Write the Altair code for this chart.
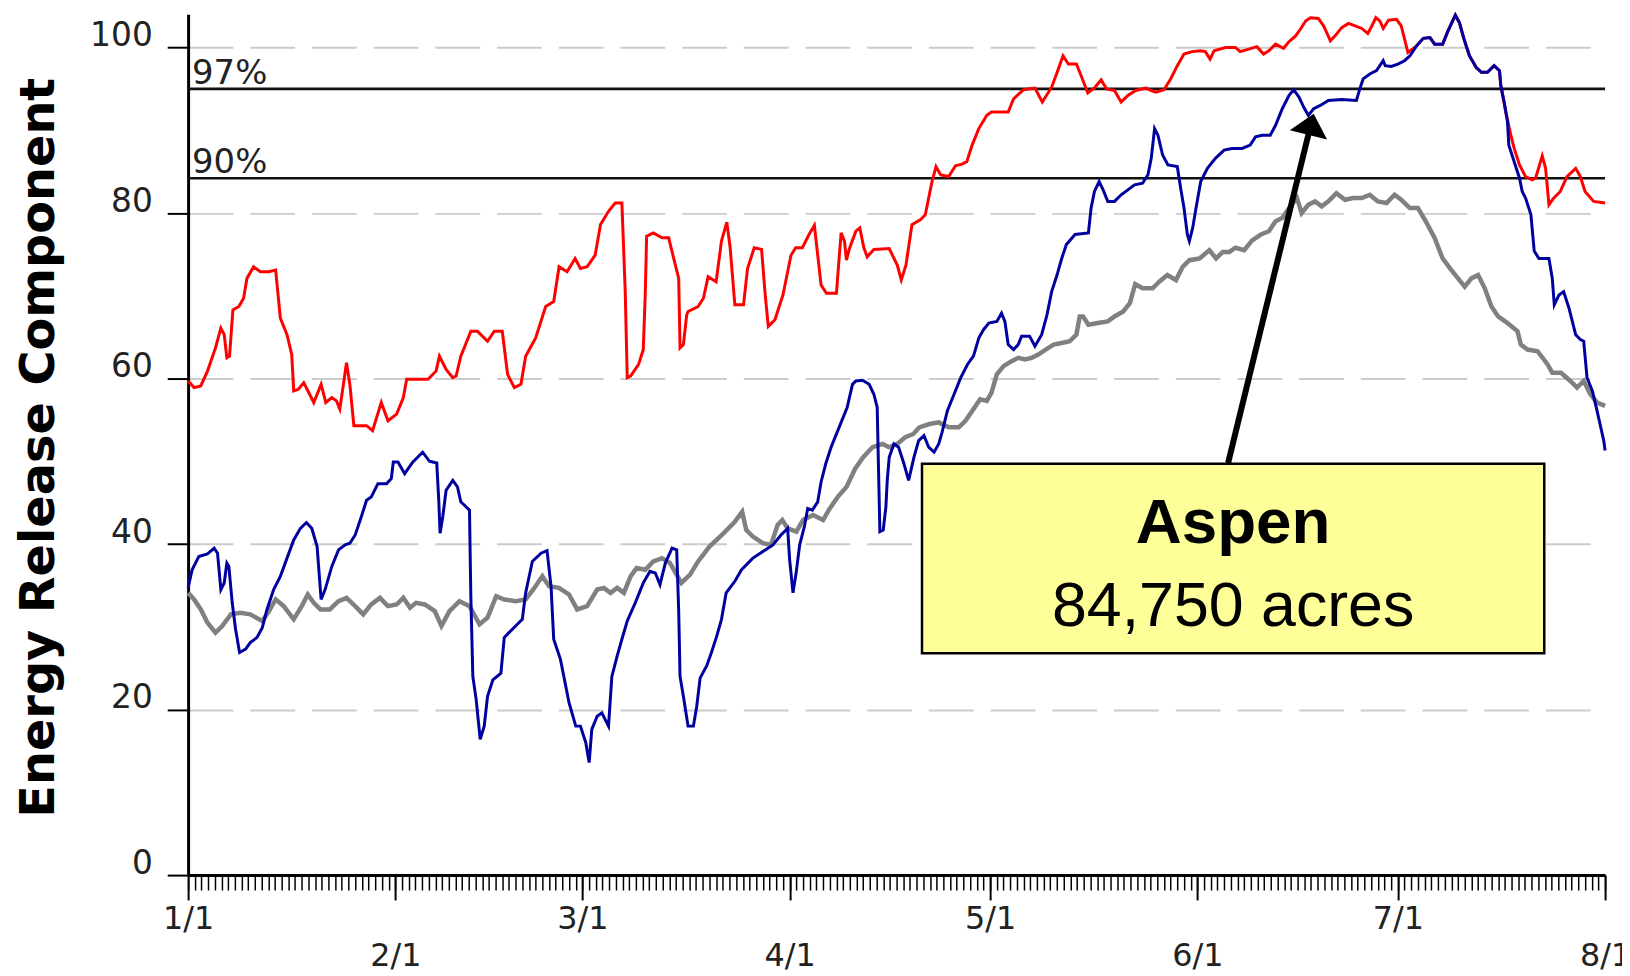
import altair as alt
import pandas as pd

# ---------------- data (day index from 1/1, ERC value) ----------------
red_day = [0, 0.9, 1.9, 2.9, 4.1, 4.9, 5.4, 5.8, 6.2, 6.7, 7.6, 8.3, 8.8, 9.8, 10.8, 12.1, 13.1, 13.8, 14.8,
           15.5, 15.8, 16.5, 17.3, 18.8, 19.9, 20.6, 21.5, 22.2, 22.7, 23.7, 24.2, 24.8, 26.7, 27.6, 28.9,
           29.9, 31.2, 32.2, 32.7, 35.9, 37.1, 37.6, 38.6, 39.6, 40.1, 40.8, 42.3, 43.3, 44.8, 45.8, 47.0,
           47.8, 48.8, 49.8, 50.5, 52.0, 53.5, 54.7, 55.5, 56.7, 57.9, 58.7, 59.7, 60.9, 61.7, 62.9, 63.9,
           64.9, 65.4, 65.7, 66.2, 67.4, 68.1, 68.4, 68.6, 69.6, 70.9, 71.9, 72.9, 73.4, 73.6, 74.1, 74.6,
           74.8, 76.3, 77.1, 77.8, 79.0, 79.8, 80.6, 81.1, 81.8, 83.1, 83.7, 84.7, 85.8, 86.3, 86.8, 87.8,
           89.0, 90.2, 90.9, 91.9, 92.9, 93.7, 94.7, 95.5, 97.0, 97.3, 97.7, 98.2, 98.5, 98.9, 99.9, 100.5,
           101.1, 101.6, 102.6, 104.9, 106.1, 106.7, 107.4, 108.3, 109.6, 110.3, 111.3, 111.9, 112.6, 113.8,
           114.8, 115.8, 116.5, 117.3, 118.3, 119.5, 120.2, 122.7, 123.5, 125.0, 126.7, 127.8, 129.2, 130.2,
           130.9, 131.7, 132.9, 133.7, 134.6, 135.6, 136.6, 137.4, 138.6, 139.6, 140.6, 141.8, 143.3, 144.1,
           144.8, 146.0, 147.0, 148.0, 149.0, 150.2, 151.5, 152.2, 152.9, 153.5, 155.2, 156.7, 157.4, 158.7,
           159.9, 160.9, 161.7, 162.7, 163.9, 164.7, 165.7, 166.4, 167.2, 167.9, 169.1, 169.9, 170.9, 171.6,
           172.6, 173.6, 174.6, 175.6, 176.5, 177.1, 177.7, 178.3, 178.8, 179.6, 180.8, 181.5, 182.0, 182.5,
           183.8, 184.8, 185.8, 186.5, 187.7, 188.5, 189.6, 190.2, 190.9, 191.7, 192.7, 193.5, 194.4, 195.4,
           196.2, 196.4, 197.1, 197.9, 198.4, 199.2, 200.1, 201.1, 201.6, 202.6, 203.1, 203.6, 204.3, 205.3,
           206.3, 207.6, 208.3, 209.0, 210.3, 212.0]
red_erc = [59.7, 58.9, 59.1, 60.9, 63.7, 66.1, 65.3, 62.5, 62.7, 68.3, 68.7, 69.7, 72.1, 73.5, 72.9, 72.9, 73.1,
           67.3, 65.3, 62.9, 58.5, 58.7, 59.5, 57.1, 59.3, 57.1, 57.7, 57.3, 56.3, 61.9, 59.3, 54.3, 54.3,
           53.7, 57.1, 54.9, 55.7, 57.7, 59.9, 59.9, 60.9, 62.7, 61.1, 60.1, 60.3, 62.7, 65.7, 65.7, 64.5,
           65.7, 65.7, 60.5, 58.9, 59.3, 62.7, 64.9, 68.7, 69.3, 73.5, 72.9, 74.5, 73.3, 73.5, 74.9, 78.6,
           80.2, 81.2, 81.2, 70.5, 60.1, 60.3, 61.7, 63.5, 70.3, 77.2, 77.6, 77.0, 77.0, 73.7, 72.1, 63.7,
           64.1, 67.7, 68.1, 68.7, 69.7, 72.3, 71.7, 76.6, 78.9, 75.8, 68.9, 68.9, 73.3, 75.8, 75.6, 70.5,
           66.3, 67.1, 70.1, 74.9, 75.8, 75.8, 77.4, 78.5, 71.3, 70.3, 70.3, 73.5, 77.6, 76.6, 74.3, 75.6,
           77.8, 78.2, 75.8, 74.7, 75.6, 75.7, 73.7, 71.9, 73.7, 78.6, 79.2, 79.8, 83.8, 85.6, 84.6, 84.4,
           85.7, 85.9, 86.2, 88.2, 90.2, 91.8, 92.2, 92.2, 93.8, 94.9, 95.1, 93.4, 95.2, 97.4, 99.0, 98.0,
           98.0, 96.4, 94.5, 95.1, 96.1, 95.0, 94.8, 93.4, 94.2, 94.8, 95.1, 94.8, 94.6, 94.9, 96.2, 97.8,
           99.2, 99.5, 99.6, 99.5, 98.6, 99.6, 100.0, 100.0, 99.5, 99.8, 100.1, 99.2, 99.6, 100.4, 99.9,
           100.7, 101.4, 102.2, 103.2, 103.6, 103.5, 102.6, 100.8, 101.4, 102.4, 102.9, 102.6, 102.3, 101.7,
           102.6, 103.6, 103.2, 102.3, 103.3, 103.4, 102.6, 101.0, 99.4, 100.2, 101.1, 101.2, 100.4, 100.4,
           102.0, 103.9, 103.0, 101.0, 99.0, 97.6, 97.0, 97.0, 97.8, 97.2, 95.4, 92.4, 89.4, 87.8, 85.8,
           84.4, 84.0, 84.2, 86.9, 85.4, 81.0, 81.8, 82.6, 84.4, 85.4, 84.4, 82.6, 81.4, 81.2]

blue_day = [0, 0.6, 1.6, 2.9, 3.9, 4.4, 4.9, 5.4, 5.8, 6.1, 6.6, 7.1, 7.7, 8.6, 9.3, 10.3, 11.1, 11.8, 12.8,
            13.8, 14.8, 15.8, 16.8, 17.7, 18.5, 19.3, 19.9, 20.5, 21.5, 22.5, 23.5, 24.2, 25.0, 26.0, 26.7,
            27.4, 28.4, 29.7, 30.4, 30.7, 31.4, 32.4, 33.6, 35.1, 36.1, 37.2, 37.5, 37.7, 38.1, 38.6, 39.6,
            40.3, 40.8, 42.1, 42.3, 42.6, 43.1, 43.7, 44.3, 44.8, 45.6, 46.8, 47.3, 48.0, 49.0, 50.0, 50.5,
            51.5, 52.8, 53.7, 54.3, 54.7, 55.7, 57.0, 58.0, 58.7, 59.5, 60.0, 60.4, 61.2, 61.9, 62.9, 63.4,
            64.2, 64.9, 65.7, 66.9, 68.1, 69.1, 69.9, 70.6, 71.4, 72.4, 73.1, 73.4, 73.6, 74.1, 74.8, 75.6,
            76.1, 76.6, 77.6, 78.3, 79.1, 79.8, 80.5, 81.8, 82.8, 84.5, 86.0, 87.5, 88.7, 89.7, 90.0, 90.5,
            91.0, 91.5, 92.2, 92.7, 93.4, 94.2, 94.7, 95.4, 96.2, 96.9, 97.4, 98.6, 99.4, 99.9, 100.9, 101.9,
            102.6, 103.1, 103.3, 103.5, 104.0, 104.4, 104.6, 104.9, 105.6, 106.3, 107.1, 107.8, 108.6, 109.3,
            110.1, 110.8, 111.6, 112.3, 112.8, 113.6, 114.6, 115.6, 116.6, 117.5, 118.3, 119.0, 119.8, 121.0,
            121.7, 122.2, 122.7, 123.5, 124.2, 124.7, 125.9, 126.7, 127.7, 128.5, 129.2, 130.0, 130.7, 131.4,
            132.7, 134.7, 135.1, 135.6, 136.3, 136.9, 137.6, 138.6, 139.6, 140.6, 141.6, 142.8, 143.6, 144.1,
            144.6, 145.1, 145.8, 146.6, 148.0, 148.5, 149.0, 149.5, 149.8, 150.3, 150.8, 151.5, 152.5, 153.7,
            155.0, 156.2, 157.7, 158.9, 159.7, 160.7, 161.9, 162.7, 163.7, 164.7, 165.4, 166.2, 166.9, 167.6,
            168.4, 169.4, 170.6, 172.6, 174.8, 175.3, 175.8, 176.8, 177.8, 178.8, 179.1, 180.0, 181.0, 182.0,
            182.8, 183.8, 184.8, 185.8, 186.5, 187.7, 188.5, 189.6, 190.2, 190.9, 191.7, 192.7, 193.5, 194.4,
            195.4, 196.2, 196.4, 196.9, 197.4, 197.6, 198.4, 199.2, 199.6, 200.1, 200.9, 201.4, 202.1, 203.6,
            204.1, 204.4, 205.1, 205.8, 206.6, 207.6, 208.3, 208.8, 209.3, 210.1, 210.8, 211.8, 212.0]
blue_erc = [34.7, 36.9, 38.5, 38.8, 39.5, 38.9, 34.5, 35.3, 37.7, 37.3, 32.9, 29.7, 26.9, 27.3, 28.1, 28.7,
            29.9, 32.1, 34.5, 36.1, 38.3, 40.5, 41.9, 42.6, 41.9, 39.7, 33.3, 34.5, 37.3, 39.3, 39.9, 40.1,
            41.1, 43.5, 45.3, 45.7, 47.3, 47.3, 47.9, 49.9, 49.9, 48.5, 49.9, 51.1, 50.0, 49.8, 45.3, 41.3,
            43.3, 46.5, 47.7, 46.9, 45.1, 44.1, 33.7, 24.0, 21.2, 16.4, 18.0, 21.6, 23.6, 24.4, 28.7, 29.3,
            30.1, 30.9, 34.1, 37.9, 38.9, 39.2, 34.9, 28.5, 26.1, 20.8, 18.0, 18.0, 16.0, 13.6, 17.6, 19.2,
            19.6, 18.0, 24.0, 26.5, 28.5, 30.7, 32.9, 35.3, 36.7, 36.5, 35.1, 37.7, 39.5, 39.3, 31.9, 24.0,
            21.6, 18.0, 18.0, 20.4, 23.8, 25.3, 26.9, 28.9, 30.9, 34.1, 35.5, 36.9, 38.3, 39.1, 39.9, 41.1,
            41.9, 38.1, 34.1, 36.7, 39.9, 42.1, 44.3, 44.1, 45.1, 47.5, 49.7, 51.7, 53.1, 54.1, 56.5, 59.3,
            59.7, 59.8, 59.3, 58.1, 56.5, 48.9, 41.5, 41.7, 44.5, 47.7, 50.5, 52.1, 51.7, 49.7, 47.7, 50.5,
            52.5, 53.1, 51.7, 51.1, 52.1, 53.5, 56.1, 58.1, 60.1, 61.7, 62.7, 64.9, 65.9, 66.7, 66.9, 67.9,
            66.9, 64.1, 63.5, 64.1, 65.1, 65.1, 63.9, 65.3, 67.7, 70.5, 72.5, 74.5, 76.2, 77.4, 77.6, 80.6,
            82.6, 83.8, 82.8, 81.4, 81.4, 82.2, 82.8, 83.4, 83.6, 84.6, 86.6, 90.2, 89.4, 87.0, 85.8, 85.6,
            83.0, 80.6, 77.4, 76.6, 78.2, 80.6, 83.8, 85.4, 86.6, 87.6, 87.8, 87.8, 88.2, 89.2, 89.4, 89.4,
            90.6, 92.6, 94.2, 94.9, 94.0, 92.8, 91.8, 92.6, 93.0, 93.6, 93.7, 93.6, 95.0, 96.2, 96.8, 97.2,
            98.4, 97.8, 97.7, 98.0, 98.4, 99.0, 100.2, 101.1, 101.2, 100.4, 100.4, 102.0, 103.9, 103.0, 101.0,
            99.0, 97.6, 97.0, 97.0, 97.8, 97.2, 95.4, 93.4, 91.0, 88.2, 86.2, 84.2, 82.6, 81.8, 79.8, 75.4,
            74.5, 74.5, 72.1, 68.9, 70.1, 70.5, 68.5, 65.3, 64.7, 64.5, 60.1, 58.5, 56.1, 52.5, 51.3]

gray_day = [0, 0.9, 1.9, 2.9, 4.1, 5.1, 6.4, 7.8, 9.3, 11.1, 12.1, 13.1, 14.3, 15.8, 17.0, 17.9, 18.8, 19.8,
            21.2, 22.5, 23.7, 25.0, 26.2, 27.4, 28.7, 29.9, 31.2, 32.2, 33.2, 34.1, 35.4, 36.9, 37.9, 39.1,
            40.6, 42.1, 43.6, 44.8, 46.1, 47.3, 49.0, 50.5, 51.8, 53.0, 54.0, 55.5, 57.0, 58.2, 59.7, 61.2,
            62.2, 63.2, 64.2, 65.2, 66.2, 67.1, 68.4, 69.6, 70.9, 72.1, 73.8, 75.1, 76.3, 78.0, 80.1, 81.8,
            82.9, 83.5, 84.5, 86.0, 87.2, 88.2, 88.9, 89.7, 91.0, 92.0, 93.5, 95.0, 96.0, 97.2, 98.5, 99.8,
            101.0, 102.4, 103.9, 104.9, 106.1, 107.3, 108.5, 109.4, 110.9, 112.3, 113.8, 115.3, 116.3, 117.5,
            118.5, 119.5, 120.2, 121.0, 122.0, 123.2, 124.2, 125.2, 126.2, 127.2, 128.3, 129.5, 130.7, 131.9,
            132.9, 133.4, 133.9, 134.7, 136.1, 137.6, 138.6, 139.9, 140.9, 141.7, 142.8, 144.3, 145.3, 146.5,
            147.8, 148.8, 149.8, 151.3, 152.8, 153.8, 154.8, 155.8, 156.7, 158.0, 159.2, 160.5, 161.7, 162.7,
            163.7, 164.9, 165.9, 166.6, 167.6, 168.6, 169.6, 170.6, 171.8, 173.1, 174.3, 175.6, 176.8, 178.0,
            179.3, 180.5, 181.5, 182.8, 184.0, 185.3, 186.5, 187.7, 188.8, 190.0, 191.0, 192.0, 193.0, 194.0,
            195.0, 196.0, 197.4, 198.9, 199.4, 200.4, 201.9, 203.4, 204.1, 205.4, 206.8, 207.8, 208.8, 209.8,
            210.8, 212.0]
gray_erc = [34.1, 33.3, 32.1, 30.5, 29.3, 30.1, 31.5, 31.7, 31.5, 30.7, 31.9, 33.3, 32.5, 30.9, 32.5, 33.9,
            32.9, 32.1, 32.1, 33.1, 33.5, 32.5, 31.5, 32.7, 33.5, 32.5, 32.7, 33.5, 32.3, 32.9, 32.7, 31.9,
            30.1, 31.9, 33.1, 32.5, 30.3, 31.1, 33.7, 33.3, 33.1, 33.3, 34.7, 36.1, 34.9, 34.7, 33.9, 32.1,
            32.5, 34.5, 34.7, 34.1, 34.7, 34.1, 36.1, 37.1, 36.9, 37.9, 38.3, 37.7, 35.3, 36.3, 37.9, 39.7,
            41.3, 42.7, 43.9, 41.7, 40.9, 40.1, 39.9, 42.3, 42.9, 41.9, 41.5, 42.9, 43.5, 42.9, 44.3, 45.7,
            46.9, 49.1, 50.5, 51.7, 52.1, 51.7, 52.1, 52.9, 53.3, 54.1, 54.5, 54.7, 54.1, 54.1, 54.9, 56.3,
            57.5, 57.3, 58.3, 60.5, 61.5, 62.1, 62.5, 62.3, 62.5, 62.9, 63.5, 64.1, 64.3, 64.5, 65.3, 67.5,
            67.5, 66.5, 66.7, 66.9, 67.5, 68.1, 69.1, 71.4, 70.9, 70.9, 71.7, 72.5, 71.9, 73.5, 74.3, 74.5,
            75.5, 74.5, 75.3, 75.3, 75.8, 75.5, 76.7, 77.4, 77.8, 79.0, 79.4, 80.8, 81.8, 80.0, 81.0, 81.4,
            80.8, 81.4, 82.4, 81.6, 81.8, 81.8, 82.2, 81.4, 81.2, 82.2, 81.6, 80.6, 80.6, 78.8, 77.0, 74.5,
            73.3, 72.1, 71.1, 72.1, 72.5, 70.9, 68.7, 67.5, 66.7, 65.7, 64.1, 63.5, 63.3, 61.7, 60.7, 60.7,
            59.7, 58.9, 59.7, 58.1, 57.1, 56.7]

month_days = [0, 31, 59, 90, 120, 151, 181, 212]
month_labels = ["1/1", "2/1", "3/1", "4/1", "5/1", "6/1", "7/1", "8/1"]
y_ticks = [0, 20, 40, 60, 80, 100]

threshold_erc = [95.0, 84.2]
threshold_labels = ["97%", "90%"]

# annotation, in data space (day, ERC)
box_day = [109.8, 202.9]
box_erc = [26.8, 49.7]
note_day = 156.35
note_title = "Aspen"
note_title_erc = 40.1
note_body = "84,750 acres"
note_body_erc = 30.1
arrow_start = [155.6, 49.8]
arrow_neck = [167.8, 90.1]
arrow_tip = [168.4, 92.0]

# ---------------- chart ----------------
W, H = 1424, 865
xscale = alt.Scale(domain=[0, 212], nice=False, zero=False)
yscale = alt.Scale(domain=[0, 104], nice=False)

label_expr = " : ".join(f"datum.value == {d} ? '{l}'" for d, l in zip(month_days, month_labels)) + " : ''"
even_days = month_days[1::2]
pad_cond = {"condition": {"test": f"indexof({even_days}, datum.value) >= 0", "value": 41}, "value": 4}

major_axis = alt.Axis(values=month_days, orient="bottom", tickSize=25, tickWidth=2, tickColor="black",
                      domainColor="black", domainWidth=3, labelExpr=label_expr, labelFont="DejaVu Sans",
                      labelFontSize=32, labelColor="#222222", labelPadding=pad_cond, labelOverlap=False,
                      labelFlush=False, labelBaseline="top", labelAlign="center", grid=False, title=None)
minor_axis = alt.Axis(values=list(range(0, 213)), orient="bottom", tickSize=15, tickWidth=1.5,
                      tickColor="black", labels=False, domain=False, grid=False, title=None)
y_axis = alt.Axis(values=y_ticks, orient="left", tickSize=21, tickWidth=2, tickColor="black",
                  domainColor="black", domainWidth=3, labelFont="DejaVu Sans", labelFontSize=33,
                  labelColor="#222222", labelPadding=15, labelBaseline="alphabetic", labelOffset=-2,
                  grid=True, gridColor="#cccccc", gridDash=[45, 17], gridWidth=2,
                  title="Energy Release Component", titleFont="DejaVu Sans", titleFontSize=48,
                  titleFontWeight="bold", titleColor="black", titleX=-135, titleY=435,
                  titleAlign="center", titleBaseline="alphabetic", titleAngle=270)

Y = alt.Y("erc:Q", scale=yscale, axis=y_axis)

df_red = pd.DataFrame({"day": red_day, "erc": red_erc})
df_blue = pd.DataFrame({"day": blue_day, "erc": blue_erc})
df_gray = pd.DataFrame({"day": gray_day, "erc": gray_erc})
df_thr = pd.DataFrame({"erc": threshold_erc, "label": threshold_labels})

thr = alt.Chart(df_thr).mark_rule(color="#111111", strokeWidth=2.6).encode(y=Y)
gray = alt.Chart(df_gray).mark_line(color="#808080", strokeWidth=4.5).encode(
    x=alt.X("day:Q", scale=xscale, axis=minor_axis), y=Y)
red = alt.Chart(df_red).mark_line(color="#ff0000", strokeWidth=3).encode(
    x=alt.X("day:Q", scale=xscale, axis=major_axis), y=Y)
blue = alt.Chart(df_blue).mark_line(color="#0000a0", strokeWidth=3).encode(
    x=alt.X("day:Q", scale=xscale, axis=None), y=Y)

df_box = pd.DataFrame({"day": [box_day[0]], "day2": [box_day[1]], "erc": [box_erc[0]], "erc2": [box_erc[1]]})
box = alt.Chart(df_box).mark_rect(fill="#ffff99", stroke="black", strokeWidth=2.5).encode(
    x=alt.X("day:Q", scale=xscale, axis=None), x2="day2:Q", y=Y, y2="erc2:Q")

df_shaft = pd.DataFrame({"day": [arrow_start[0]], "day2": [arrow_neck[0]],
                         "erc": [arrow_start[1]], "erc2": [arrow_neck[1]]})
shaft = alt.Chart(df_shaft).mark_rule(color="black", strokeWidth=6, strokeCap="butt").encode(
    x=alt.X("day:Q", scale=xscale, axis=None), x2="day2:Q", y=Y, y2="erc2:Q")

df_head = pd.DataFrame({"day": [arrow_tip[0]], "erc": [arrow_tip[1]]})
head = alt.Chart(df_head).mark_point(shape="M0,0L1,1.14L-1,1.14Z", filled=True, color="black",
                                     opacity=1, size=1490, angle=13.8, strokeWidth=0).encode(
    x=alt.X("day:Q", scale=xscale, axis=None), y=Y)

thr_text = alt.Chart(df_thr).mark_text(align="left", baseline="alphabetic", dx=4, dy=-5,
                                       font="DejaVu Sans", fontSize=34, color="#222222").encode(
    x=alt.value(0), y=Y, text="label:N")

df_t1 = pd.DataFrame({"day": [note_day], "erc": [note_title_erc], "t": [note_title]})
df_t2 = pd.DataFrame({"day": [note_day], "erc": [note_body_erc], "t": [note_body]})
t1 = alt.Chart(df_t1).mark_text(font="Liberation Sans", fontSize=64, fontWeight="bold", color="black",
                                align="center", baseline="alphabetic").encode(
    x=alt.X("day:Q", scale=xscale, axis=None), y=Y, text="t:N")
t2 = alt.Chart(df_t2).mark_text(font="Liberation Sans", fontSize=63, color="black",
                                align="center", baseline="alphabetic").encode(
    x=alt.X("day:Q", scale=xscale, axis=None), y=Y, text="t:N")

chart = alt.layer(thr, gray, red, blue, box, shaft, head, thr_text, t1, t2).resolve_axis(
    x="independent").properties(
    width=W, height=H,
    padding={"left": 181, "top": 4, "right": 17, "bottom": 99},
    autosize=alt.AutoSizeParams(type="none"),
    background="white",
).configure_view(strokeWidth=0)

chart.save("out.html", embed_options={"renderer": "svg", "actions": False})
